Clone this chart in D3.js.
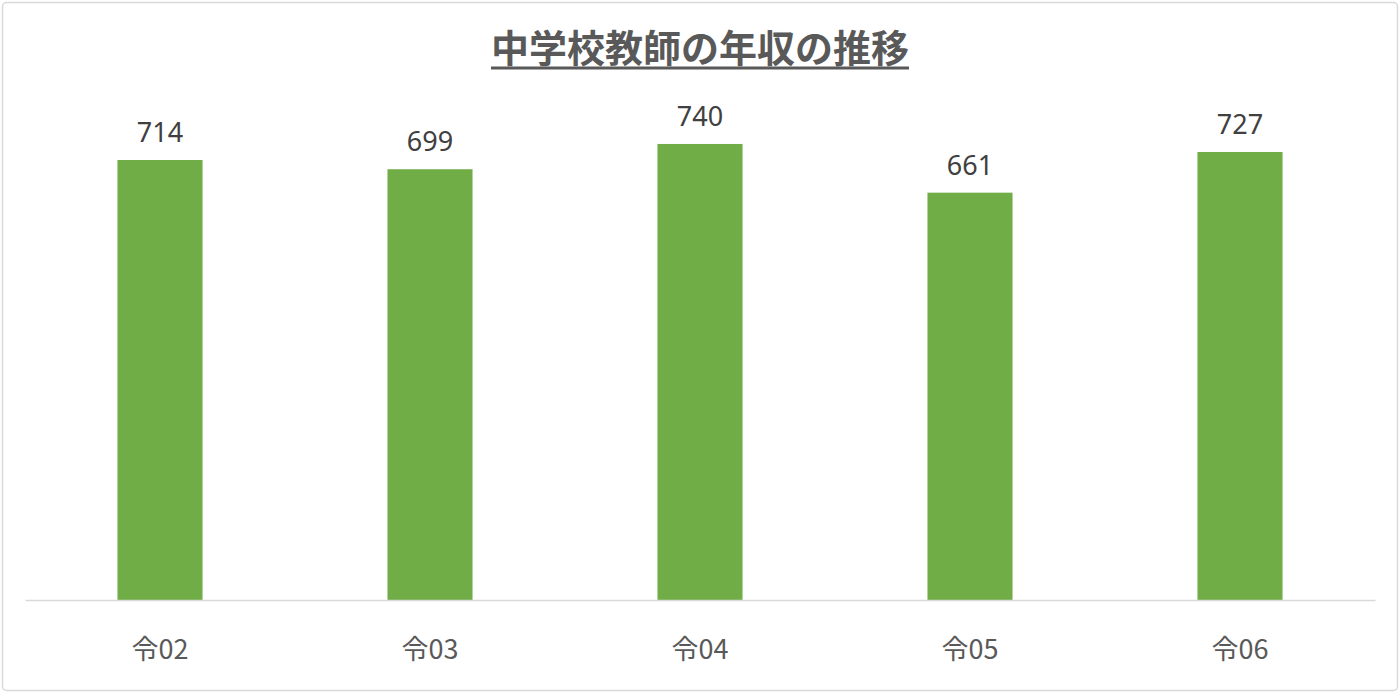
<!DOCTYPE html>
<html>
<head>
<meta charset="utf-8">
<script src="https://cdn.jsdelivr.net/npm/d3@7"></script>
<style>
  body { margin: 0; background: #fff; }
  svg { display: block; }
</style>
</head>
<body>
<svg id="chart" width="1400" height="693"></svg>
<script>
// Chart data
const categories = ['令02', '令03', '令04', '令05', '令06'];
const salaries = [714, 699, 740, 661, 727];
const chartTitle = '中学校教師の年収の推移';

const svg = d3.select('#chart');
const width = +svg.attr('width');
const height = +svg.attr('height');
const margin = { top: 107, right: 25, bottom: 93, left: 25 };

// Outer chart border
svg.append('rect')
  .attr('x', 2.5).attr('y', 2.5)
  .attr('width', width - 5).attr('height', height - 5)
  .attr('rx', 4)
  .attr('fill', '#fff')
  .attr('stroke', '#d9d9d9')
  .attr('stroke-width', 1.5);

const x = d3.scaleBand()
  .domain(categories)
  .range([margin.left, width - margin.right])
  .paddingInner(0.685)
  .paddingOuter(0.3425);

const y = d3.scaleLinear()
  .domain([0, 800])
  .range([height - margin.bottom, margin.top]);

// Bars
svg.append('g')
  .selectAll('rect')
  .data(salaries)
  .join('rect')
  .attr('x', (d, i) => x(categories[i]))
  .attr('y', d => y(d))
  .attr('width', x.bandwidth())
  .attr('height', d => y(0) - y(d))
  .attr('fill', '#70ad47');

// Value labels
svg.append('g')
  .selectAll('text')
  .data(salaries)
  .join('text')
  .attr('x', (d, i) => x(categories[i]) + x.bandwidth() / 2)
  .attr('y', d => y(d) - 18)
  .attr('text-anchor', 'middle')
  .attr('font-family', '"Noto Sans", "Noto Sans CJK JP", sans-serif')
  .attr('font-size', 27)
  .attr('fill', '#404040')
  .text(d => d);

// X axis
const xAxis = svg.append('g')
  .attr('transform', `translate(0,${y(0)})`)
  .call(d3.axisBottom(x).tickSize(0).tickPadding(40));
xAxis.select('.domain').attr('stroke', '#d9d9d9').attr('stroke-width', 1.5);
xAxis.selectAll('text')
  .attr('font-family', '"Noto Sans CJK JP", "Noto Sans", sans-serif')
  .attr('font-size', 27)
  .attr('fill', '#595959');

// Title with underline
const title = svg.append('text')
  .attr('x', width / 2)
  .attr('y', 62)
  .attr('text-anchor', 'middle')
  .attr('font-family', '"Noto Sans CJK JP", sans-serif')
  .attr('font-weight', 'bold')
  .attr('font-size', 38)
  .attr('fill', '#595959')
  .text(chartTitle);
const tb = title.node().getBBox();
svg.append('line')
  .attr('x1', tb.x).attr('x2', tb.x + tb.width)
  .attr('y1', 68).attr('y2', 68)
  .attr('stroke', '#595959')
  .attr('stroke-width', 3);
</script>
</body>
</html>
